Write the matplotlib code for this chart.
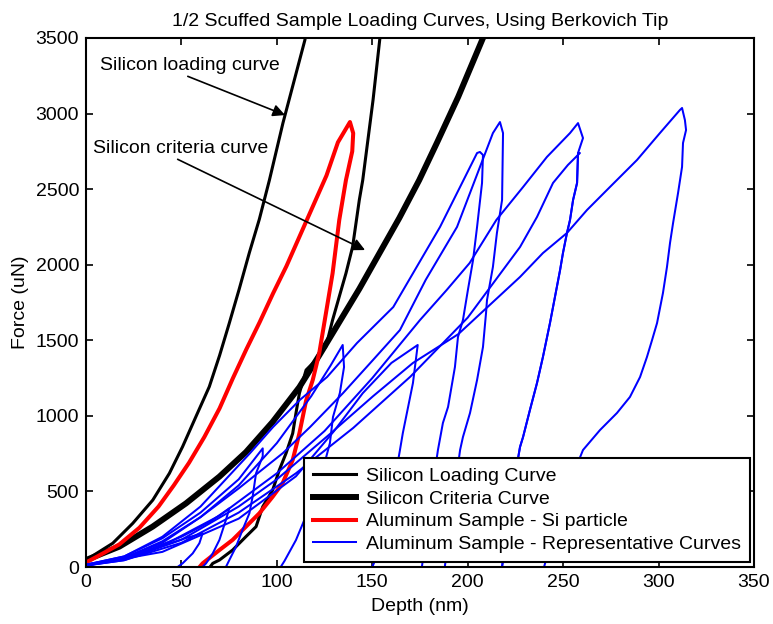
import matplotlib
matplotlib.use("Agg")
import matplotlib.pyplot as plt

plt.rcParams['font.family'] = ['Liberation Sans', 'DejaVu Sans']

# ---- Silicon loading curve (load + unload, peak lies above the plotted range)
si_load_depth = [0, 14, 24.5, 35, 43.7, 50.6, 57.6, 64.6, 70, 75, 80.3, 85.6, 90.8, 96.1,
                 103.2, 114.7, 118,
                 157, 154, 150.4, 145, 143.2, 139.7, 136.2, 132.7, 129.2, 125.7, 120.5, 115.3,
                 111.8, 110, 108.3, 104.8, 101.3, 97.8, 92.6, 89.1, 83.8, 76.8, 69.9, 66.4, 65]
si_load_force = [46, 157, 289, 443, 620, 796, 995, 1193, 1400, 1610, 1840, 2080, 2300, 2560,
                 2938, 3487, 3800,
                 3800, 3500, 3090, 2560, 2428, 2119, 1943, 1789, 1634, 1458, 1370, 1303,
                 1149, 1017, 884, 752, 642, 509, 399, 267, 201, 112, 46, 24, 0]

# ---- Silicon criteria curve
si_crit_depth = [0, 17.5, 34.9, 52.4, 69.9, 83.8, 97.8, 111.8, 122.2, 132.7, 143.2, 153.7,
                 164.2, 174.6, 184, 195, 208, 212]
si_crit_force = [46, 135, 267, 421, 598, 760, 960, 1190, 1400, 1620, 1840, 2075,
                 2310, 2560, 2810, 3110, 3500, 3600]

# ---- Aluminum sample, Si particle
al_si_depth = [0, 6, 17.5, 28, 38, 46, 54, 62, 70, 77, 84, 91, 98, 105,
               112, 119, 126, 132, 138.3,
               140, 139.5, 136.2, 132.7, 129.2, 125.7, 122.2, 118.8, 115.3, 111.8, 108.3,
               103.0, 97.8, 90.8, 83.8, 76.8, 69.9, 61.1, 59.5]
al_si_force = [30, 70, 150, 260, 400, 540, 690, 860, 1050, 1250, 1440, 1620, 1810, 1990,
               2190, 2390, 2590, 2810, 2944,
               2870, 2750, 2560, 2296, 1943, 1678, 1414, 1237, 1100, 884, 708,
               554, 465, 355, 267, 179, 112, 24, 0]

# ---- Aluminum sample, representative curves (depth nm, force uN)
rep_depth = [
    # shallow indents
    [0, 20, 40, 52, 61.1, 59.4, 55.9, 50.6, 48],
    [0, 25, 50, 65, 75.1, 73.3, 69.9, 66.4, 62.9, 61],
    [0, 20, 40, 60, 80, 92.6, 92.6, 89.1, 87.3, 85.6, 82, 78.6, 75.1, 73.3],
    [0, 20, 40, 60, 80, 100, 118, 128, 134.5, 135.2, 133, 129.4, 127.8, 124, 118, 110, 104, 102],
    [0, 40, 80, 110, 130, 145, 160, 173.8, 173.8, 171.3, 166, 164.5, 160, 155, 150],
    # deeper indents
    [0, 20, 40, 60, 86, 98, 112, 126.3, 142, 161, 185.5, 204.9, 206.4, 208, 207.5, 204.9,
     202.8, 200.1, 197.5, 194.9, 193.3, 189.7, 187, 184.4, 180, 176],
    [0, 20, 40, 60, 80, 103.2, 117.4, 134.7, 150.4, 164.5, 178, 194.4, 213.2, 216.9, 218.5, 218,
     215.3, 213.2, 210.1, 209.6, 208, 204.9, 201.2, 197.5, 196, 192, 188],
    [0, 20, 40, 70, 100, 125, 150, 175, 189, 201, 215, 229, 241.5, 253.6, 257.8, 260.4, 257.8,
     257.3, 255.2, 253.6, 252, 249.9, 248.4, 245.7, 243.1, 239.4, 236.3, 232.6, 229, 227.4,
     222, 218],
    [0, 20, 50, 80, 110, 140, 170, 200, 227.4, 236.3, 244.7, 252.5, 258.8, 257.8, 257.3, 255.2,
     253.6, 252, 249.9, 248.4, 245.7, 243.1, 239.4, 236.3, 232.6, 229, 227.4, 222, 218],
    [0, 20, 50, 80, 100, 127.8, 150.4, 171.3, 195, 227.4, 239.4, 252, 262.5, 274.5, 288.7,
     300.7, 311.2, 312.3, 313.8, 314.4, 312.8, 312.3, 310.2, 307.6, 306, 304.4, 302.3, 299.2,
     296.6, 293.9, 290.3, 285, 278.2, 269.3, 260.4, 250, 240],
    # zero-force baseline
    [0, 200],
]
rep_force = [
    [10, 55, 140, 190, 223, 157, 90, 24, 0],
    [10, 75, 200, 300, 388, 311, 179, 90, 24, 0],
    [15, 70, 190, 360, 580, 785, 733, 620, 465, 355, 245, 134, 46, 0],
    [15, 60, 170, 330, 540, 820, 1130, 1330, 1469, 1323, 1151, 992, 820, 640, 420, 178, 40, 0],
    [10, 100, 320, 600, 900, 1150, 1350, 1469, 1469, 1217, 886, 774, 450, 150, 0],
    [15, 70, 200, 400, 754, 926, 1105, 1257, 1482, 1720, 2250, 2739, 2746, 2726, 2541, 2250,
     2031, 1833, 1634, 1522, 1323, 1059, 953, 774, 400, 0],
    [15, 60, 160, 330, 520, 754, 926, 1151, 1370, 1568, 1900, 2250, 2871, 2944, 2871, 2428,
     2210, 1985, 1766, 1681, 1456, 1237, 1019, 860, 774, 400, 0],
    [10, 50, 140, 340, 620, 900, 1250, 1634, 1833, 2011, 2296, 2514, 2713, 2871, 2937, 2838,
     2739, 2541, 2428, 2296, 2210, 2077, 1965, 1786, 1614, 1389, 1217, 1039, 860, 794, 400, 0],
    [10, 45, 160, 360, 620, 920, 1260, 1650, 2117, 2316, 2541, 2660, 2739, 2739, 2541, 2428,
     2296, 2210, 2077, 1965, 1786, 1614, 1389, 1217, 1039, 860, 794, 400, 0],
    [10, 45, 180, 400, 580, 880, 1130, 1350, 1540, 1919, 2077, 2210, 2362, 2514, 2693,
     2871, 3024, 3037, 2957, 2891, 2805, 2647, 2474, 2276, 2144, 1985, 1813, 1614,
     1502, 1389, 1257, 1125, 1019, 906, 774, 450, 0],
    [0, 0],
]

x_ticks = [0, 50, 100, 150, 200, 250, 300, 350]
y_ticks = [0, 500, 1000, 1500, 2000, 2500, 3000, 3500]

fig = plt.figure(figsize=(7.73, 6.24), dpi=100)
ax = fig.add_axes([86 / 773, 1 - 567 / 624, (754 - 86) / 773, (567 - 38) / 624])

ax.plot(si_load_depth, si_load_force, color='black', lw=2.2, label='Silicon Loading Curve')
ax.plot(si_crit_depth, si_crit_force, color='black', lw=4.3, label='Silicon Criteria Curve')
ax.plot(al_si_depth, al_si_force, color='#ff0000', lw=2.9, label='Aluminum Sample - Si particle')
for i, (d, f) in enumerate(zip(rep_depth, rep_force)):
    ax.plot(d, f, color='#0000ff', lw=1.45,
            label='Aluminum Sample - Representative Curves' if i == 0 else None)

ax.set_xlim(0, 350)
ax.set_ylim(0, 3500)
ax.set_xticks(x_ticks)
ax.set_yticks(y_ticks)
ax.tick_params(direction='in', top=True, right=True, length=5, width=1.2, labelsize=14, pad=5)
for s in ax.spines.values():
    s.set_linewidth(1.5)

ax.set_title('1/2 Scuffed Sample Loading Curves, Using Berkovich Tip', fontsize=14, pad=9)
ax.set_xlabel('Depth (nm)', fontsize=14, labelpad=5)
ax.set_ylabel('Force (uN)', fontsize=14, labelpad=5)

ax.annotate('Silicon loading curve', xy=(104.3, 2990), xytext=(7.3, 3321),
            fontsize=14, va='center', ha='left',
            arrowprops=dict(arrowstyle='-|>', color='black', lw=1.2, mutation_scale=18,
                            shrinkA=0, shrinkB=0, relpos=(0.45, 0)))
ax.annotate('Silicon criteria curve', xy=(146.2, 2097), xytext=(3.7, 2772),
            fontsize=14, va='center', ha='left',
            arrowprops=dict(arrowstyle='-|>', color='black', lw=1.2, mutation_scale=18,
                            shrinkA=0, shrinkB=0, relpos=(0.45, 0)))

leg = ax.legend(loc='lower right', bbox_to_anchor=(0.994, 0.0095), borderaxespad=0,
                fontsize=14, frameon=True, fancybox=False, handlelength=2.2,
                handletextpad=0.55, labelspacing=0.27, borderpad=0.45)
leg.get_frame().set_edgecolor('black')
leg.get_frame().set_linewidth(1.5)
leg.get_frame().set_alpha(1)

fig.savefig('out.png', dpi=100)
